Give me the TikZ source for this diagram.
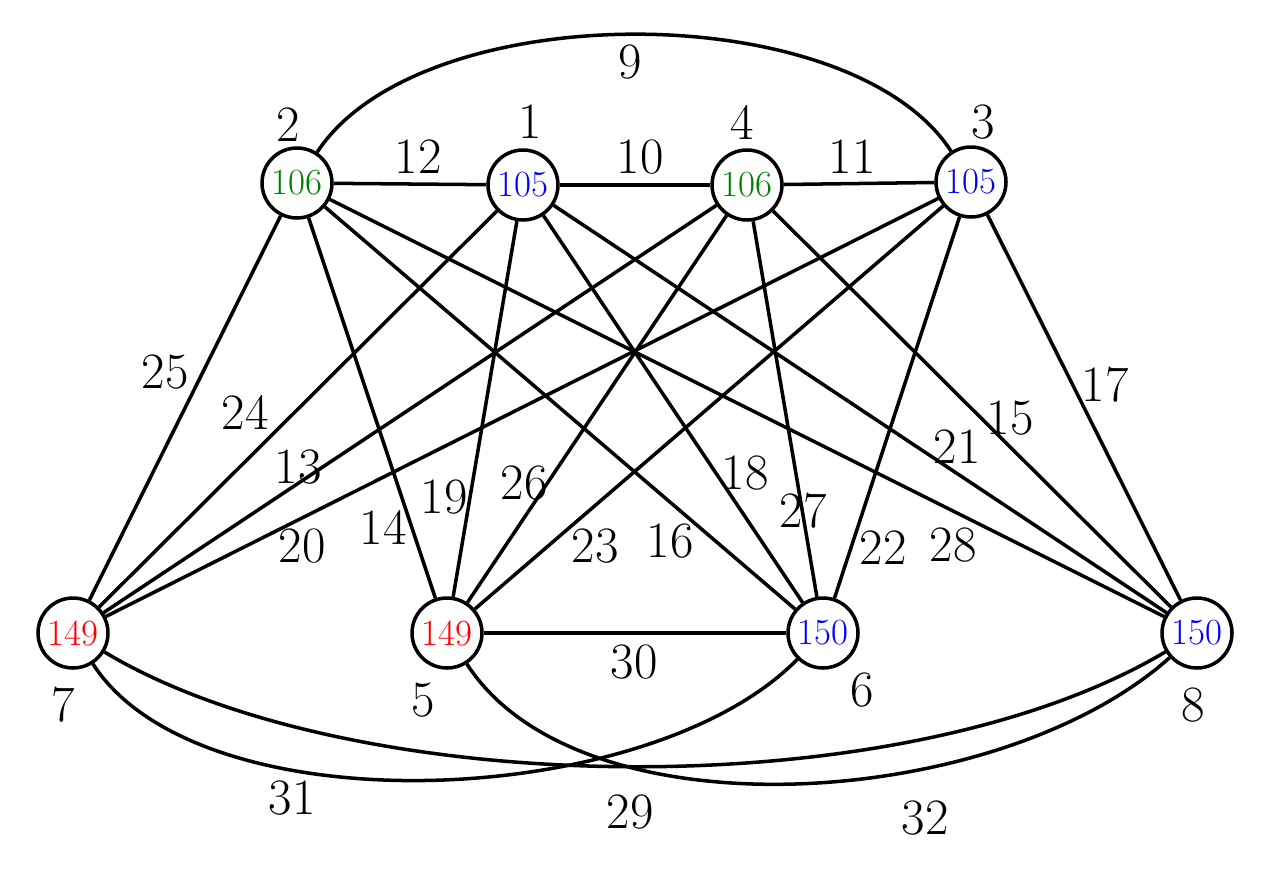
\documentclass[tikz,border=0pt]{standalone}
\begin{document}
\begin{tikzpicture}[x=0.02cm,y=-0.02cm,
 vtx/.style={circle,draw,line width=2pt,minimum size=1.4cm,inner sep=0pt,font=\fontsize{21}{21}\selectfont},
 edge/.style={line width=2pt},
 lab/.style={font=\fontsize{29}{29}\selectfont}]
\useasboundingbox (0,0) rectangle (1267,869);
\node[vtx,text=green!50!black] (n2) at (297,183) {106};
\node[vtx,text=blue] (n1) at (523,185) {105};
\node[vtx,text=green!50!black] (n4) at (747,185) {106};
\node[vtx,text=blue] (n3) at (971,182) {105};
\node[vtx,text=red] (n7) at (73,633) {149};
\node[vtx,text=red] (n5) at (447,633) {149};
\node[vtx,text=blue] (n6) at (823,633) {150};
\node[vtx,text=blue] (n8) at (1197,633) {150};
\draw[edge] (n2) .. controls (420,-5) and (850,-5) .. (n3);
\foreach \a/\b in {n2/n1,n1/n4,n4/n3,n2/n7,n2/n5,n2/n6,n2/n8,n1/n7,n1/n5,n1/n6,n1/n8,n4/n7,n4/n5,n4/n6,n4/n8,n3/n7,n3/n5,n3/n6,n3/n8,n5/n6}
  \draw[edge] (\a) -- (\b);
\draw[edge] (n7) .. controls (200,830) and (650,810) .. (n6);
\draw[edge] (n7) .. controls (350,800) and (900,810) .. (n8);
\draw[edge] (n5) .. controls (580,840) and (1000,810) .. (n8);
\foreach \t/\x/\y in {9/630/62,12/418/157,10/640/157,11/852/157,25/165/372,24/245/412,13/298/467,20/302/546,14/383/527,19/444/497,26/524/483,23/595/546,16/670/541,18/745/473,27/803/511,22/883/548,28/953/545,21/957/447,15/1010/418,17/1105/385,30/634/662,31/292/798,29/630/812,32/925/818,2/288/125,1/530/122,4/742/122,3/983/122,7/63/705,5/423/700,6/862/690,8/1193/705}
  \node[lab] at (\x,\y) {\t};
\end{tikzpicture}
\end{document}
